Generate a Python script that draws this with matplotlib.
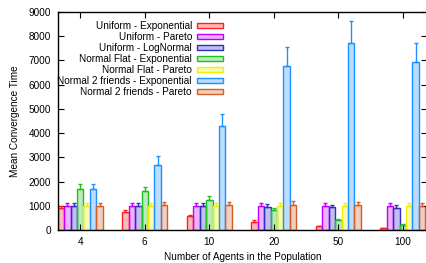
import matplotlib.pyplot as plt
import matplotlib.colors as mcolors
from matplotlib.patches import Patch
import numpy as np

plt.rcParams['font.family'] = ['Liberation Sans', 'DejaVu Sans']
plt.rcParams['font.size'] = 7.2

groups = ["4", "6", "10", "20", "50", "100"]
series = ["Uniform - Exponential", "Uniform - Pareto", "Uniform - LogNormal",
          "Normal Flat - Exponential", "Normal Flat - Pareto",
          "Normal 2 friends - Exponential", "Normal 2 friends - Pareto"]

# mean values per series (one value per group)
uni_exp = [920, 760, 565, 345, 165, 80]
uni_par = [1000, 1000, 1000, 1000, 1000, 1000]
uni_log = [1000, 1000, 1000, 960, 950, 920]
nf_exp = [1700, 1590, 1250, 845, 430, 220]
nf_par = [1000, 1000, 1000, 1000, 1000, 1000]
n2_exp = [1700, 2700, 4300, 6770, 7710, 6920]
n2_par = [1000, 1020, 1050, 1040, 1030, 1000]

# upper error bar tops
uni_exp_hi = [1000, 830, 620, 400, 180, 100]
uni_par_hi = [1100, 1100, 1100, 1100, 1100, 1100]
uni_log_hi = [1130, 1120, 1100, 1080, 1050, 1050]
nf_exp_hi = [1910, 1790, 1420, 915, 470, 250]
nf_par_hi = [1100, 1100, 1100, 1100, 1100, 1100]
n2_exp_hi = [1910, 3040, 4790, 7570, 8610, 7730]
n2_par_hi = [1120, 1140, 1160, 1180, 1150, 1110]

means = [uni_exp, uni_par, uni_log, nf_exp, nf_par, n2_exp, n2_par]
tops = [uni_exp_hi, uni_par_hi, uni_log_hi, nf_exp_hi, nf_par_hi, n2_exp_hi, n2_par_hi]
colors = ["#ff2020", "#c000ff", "#3030c0", "#20c020", "#f0f000", "#1e90ff", "#d0602a"]

fig = plt.figure(figsize=(4.26, 2.63), dpi=100)
ax = fig.add_axes([58 / 426, 1 - 230 / 263, 369 / 426, 218 / 263])

x = np.arange(len(groups))
w = 0.1
for i, (m, t, c) in enumerate(zip(means, tops, colors)):
    pos = x + (i - 3) * w
    m = np.array(m)
    err = np.array(t) - m
    ax.bar(pos, m, width=w, facecolor=c, alpha=0.3, edgecolor='none')
    ax.bar(pos, m, width=w, facecolor='none', edgecolor=c, linewidth=1.0)
    ax.errorbar(pos, m, yerr=[np.zeros_like(err), err], fmt='none', ecolor=c,
                elinewidth=1.0, capsize=1.6, capthick=1.0)

handles = [Patch(facecolor=mcolors.to_rgba(c, 0.3), edgecolor=c, linewidth=1.0)
           for c in colors]
ax.legend(handles, series, loc='upper right',
          bbox_to_anchor=((223 - 58) / 369, 1 - 9 / 218),
          frameon=False, markerfirst=False, handlelength=2.6, handleheight=0.45,
          labelspacing=0.1, handletextpad=0.5, borderpad=0, borderaxespad=0)

ax.set_xlim(-0.345, 5.375)
ax.set_ylim(0, 9000)
ax.set_xticks(x)
ax.set_xticklabels(groups)
ax.set_yticks(np.arange(0, 9001, 1000))
ax.tick_params(direction='in', top=True, right=True, length=4, width=0.8, pad=5)
for s in ax.spines.values():
    s.set_linewidth(1.0)
ax.set_xlabel("Number of Agents in the Population", labelpad=4)
ax.set_ylabel("Mean Convergence Time", labelpad=6)

fig.savefig("out.png", dpi=100)
